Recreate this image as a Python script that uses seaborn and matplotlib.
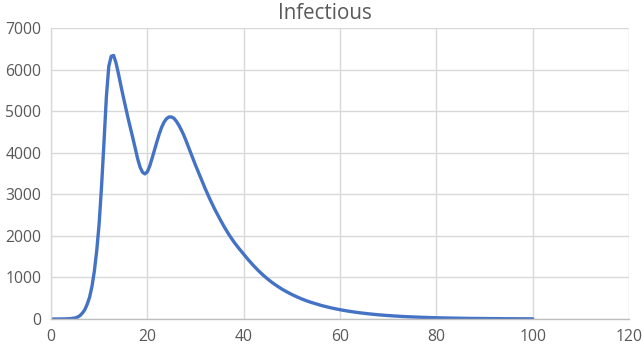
import matplotlib
matplotlib.use("Agg")
import matplotlib.pyplot as plt
import seaborn as sns
import pandas as pd

days = ([0, 1, 2, 3, 4]
        + [5 + 0.5 * i for i in range(51)]
        + list(range(31, 101)))
infectious = [
    0, 0, 1, 3, 8,
    25, 45, 80, 140, 220, 350, 520, 780, 1150, 1650,
    2300, 3200, 4250, 5350, 6080, 6320, 6340, 6160, 5900, 5620,
    5350, 5090, 4830, 4590, 4350, 4100, 3850, 3650, 3530, 3490,
    3540, 3680, 3870, 4070, 4270, 4460, 4620, 4740, 4820, 4860,
    4860, 4830, 4760, 4670, 4560, 4440, 4300, 4150, 4000, 3850,
    3700,
    3420, 3140, 2880, 2640, 2420, 2210, 2020, 1850, 1700,
    1560, 1420, 1290, 1170, 1060, 960, 870, 790, 715, 650,
    590, 535, 485, 440, 400, 365, 330, 300, 272, 247,
    224, 203, 184, 167, 151, 137, 124, 112, 101, 92,
    83, 75, 68, 61, 55, 50, 45, 41, 37, 33,
    30, 27, 24, 22, 20, 18, 16, 14, 13, 12,
    11, 10, 9, 8, 7, 6, 6, 5, 5, 4, 4,
]
x_ticks = [0, 20, 40, 60, 80, 100, 120]
y_ticks = [0, 1000, 2000, 3000, 4000, 5000, 6000, 7000]
title = "Infectious"

df = pd.DataFrame({"day": days, "infectious": infectious})

sns.set_theme(style="white")
plt.rcParams["font.family"] = ["Open Sans", "DejaVu Sans"]

fig = plt.figure(figsize=(6.43, 3.48), dpi=100)
ax = fig.add_axes([51 / 643, 1 - 319 / 348, (629 - 51) / 643, (319 - 28) / 348])

sns.lineplot(data=df, x="day", y="infectious", ax=ax, color="#4472c4", linewidth=2.4)

ax.set_xlim(0, 120)
ax.set_ylim(0, 7000)
ax.set_xticks(x_ticks)
ax.set_yticks(y_ticks)
ax.grid(True, color="#d9d9d9", linewidth=1.0)
ax.set_axisbelow(True)
for s in ["top", "right"]:
    ax.spines[s].set_visible(False)
ax.spines["left"].set_color("#d9d9d9")
ax.spines["bottom"].set_color("#bfbfbf")
ax.spines["left"].set_linewidth(1.0)
ax.spines["bottom"].set_linewidth(1.0)
ax.tick_params(axis="both", length=0, labelsize=11.3, colors="#595959", pad=7)
ax.set_xlabel("")
ax.set_ylabel("")

fig.suptitle(title, x=0.505, y=0.99, fontsize=14.8, color="#595959")

fig.savefig("out.png", dpi=100)
